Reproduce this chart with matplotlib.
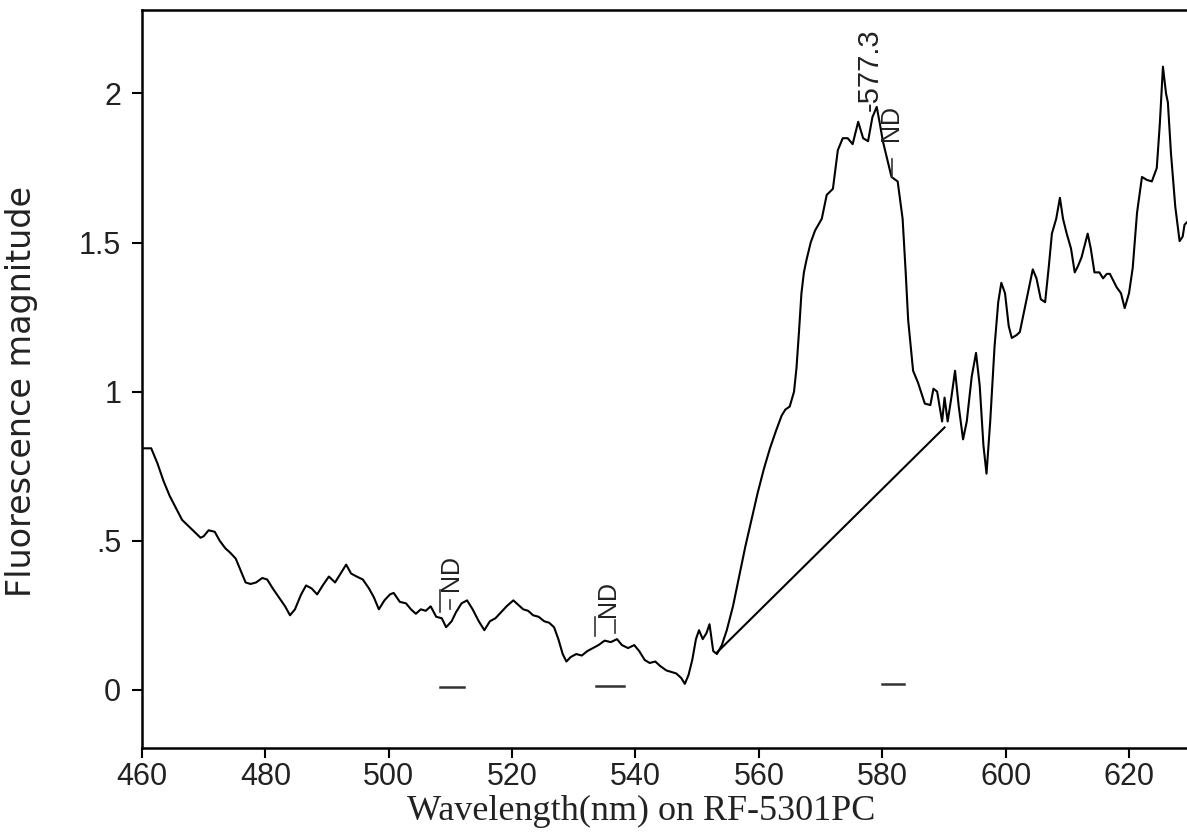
import matplotlib
matplotlib.use("Agg")
import matplotlib.pyplot as plt

# espectro (comprimento de onda em nm, magnitude)
comprimento = [460.0, 461.5, 462.5, 463.5, 464.5, 465.5, 466.5, 467.5, 468.5, 469.5,
               470.0, 470.8, 471.8, 472.6, 473.5, 474.3, 475.2, 476.0, 476.8, 477.6,
               478.5, 479.5, 480.3, 481.2, 482.2, 483.2, 484.0, 484.8, 485.8, 486.6,
               487.5, 488.4, 489.3, 490.3, 491.3, 492.2, 493.1, 493.9, 494.8, 495.8,
               496.8, 497.6, 498.4, 499.3, 500.2, 500.8, 501.8, 502.8, 503.6, 504.4,
               505.2, 506.0, 506.8, 507.7, 508.6, 509.3, 510.2, 510.9, 511.8, 512.7,
               513.6, 514.6, 515.5, 516.4, 517.3, 518.2, 519.1, 520.2, 521.0, 521.8,
               522.6, 523.4, 524.3, 525.2, 526.0, 526.8, 527.5, 528.2, 528.8, 529.5,
               530.4, 531.3, 532.2, 533.1, 534.0, 535.0, 536.0, 537.0, 537.8, 538.8,
               539.8, 540.6, 541.5, 542.3, 543.2, 544.0, 545.0, 545.8, 546.6, 547.4,
               548.0, 548.6, 549.2, 549.8, 550.3, 550.9, 551.5, 552.0, 552.6, 553.2,
               554.0, 554.8, 555.8, 556.8, 557.8, 558.8, 559.8, 560.8, 561.8, 562.8,
               563.7, 564.3, 565.0, 565.7, 566.1, 566.5, 566.9, 567.3, 567.7, 568.4,
               569.1, 570.2, 571.0, 572.0, 572.8, 573.6, 574.4, 575.2, 576.1, 576.9,
               577.7, 578.4, 579.1, 579.6, 580.1, 580.8, 581.5, 582.5, 583.3, 583.8,
               584.2, 585.0, 585.8, 586.9, 587.8, 588.3, 588.9, 589.7, 590.1, 590.6,
               591.2, 591.8, 592.4, 593.1, 593.7, 594.5, 595.2, 595.8, 596.4, 596.9,
               597.5, 598.2, 598.8, 599.3, 599.9, 600.5, 601.0, 601.8, 602.3, 603.3,
               604.4, 605.0, 605.7, 606.4, 607.0, 607.5, 608.2, 608.8, 609.3, 609.9,
               610.6, 611.2, 611.7, 612.3, 613.3, 613.8, 614.4, 615.2, 615.8, 616.4,
               616.9, 617.5, 618.0, 618.7, 619.3, 620.0, 620.6, 621.3, 622.1, 622.9,
               623.7, 624.5, 625.0, 625.5, 626.0, 626.3, 626.8, 627.5, 628.2, 628.7,
               629.0, 630.0]
magnitude = [0.81, 0.81, 0.76, 0.70, 0.65, 0.61, 0.57, 0.55, 0.53, 0.51,
             0.515, 0.535, 0.53, 0.50, 0.475, 0.46, 0.44, 0.40, 0.36, 0.355,
             0.36, 0.375, 0.37, 0.34, 0.31, 0.28, 0.25, 0.27, 0.32, 0.35,
             0.34, 0.32, 0.35, 0.38, 0.36, 0.39, 0.42, 0.39, 0.38, 0.37,
             0.34, 0.31, 0.27, 0.30, 0.32, 0.325, 0.295, 0.29, 0.27, 0.255,
             0.27, 0.265, 0.28, 0.245, 0.24, 0.21, 0.23, 0.26, 0.29, 0.30,
             0.27, 0.23, 0.20, 0.23, 0.24, 0.26, 0.28, 0.30, 0.285, 0.27,
             0.265, 0.25, 0.245, 0.23, 0.225, 0.21, 0.17, 0.12, 0.095, 0.11,
             0.12, 0.115, 0.13, 0.14, 0.15, 0.165, 0.16, 0.17, 0.15, 0.14,
             0.15, 0.13, 0.10, 0.09, 0.095, 0.08, 0.065, 0.06, 0.055, 0.04,
             0.02, 0.05, 0.10, 0.17, 0.20, 0.17, 0.19, 0.22, 0.13, 0.12,
             0.15, 0.20, 0.28, 0.38, 0.48, 0.57, 0.66, 0.74, 0.81, 0.87,
             0.92, 0.94, 0.95, 1.00, 1.08, 1.20, 1.33, 1.40, 1.44, 1.50,
             1.54, 1.58, 1.66, 1.68, 1.81, 1.85, 1.85, 1.83, 1.905, 1.85,
             1.84, 1.92, 1.955, 1.90, 1.84, 1.78, 1.72, 1.705, 1.58, 1.40,
             1.24, 1.07, 1.03, 0.96, 0.955, 1.01, 1.00, 0.90, 0.98, 0.90,
             0.98, 1.07, 0.95, 0.84, 0.90, 1.05, 1.13, 1.02, 0.82, 0.725,
             0.90, 1.15, 1.30, 1.365, 1.33, 1.22, 1.18, 1.19, 1.20, 1.30,
             1.41, 1.38, 1.31, 1.30, 1.42, 1.53, 1.58, 1.65, 1.58, 1.53,
             1.48, 1.40, 1.42, 1.45, 1.53, 1.48, 1.40, 1.40, 1.38, 1.395,
             1.395, 1.37, 1.35, 1.33, 1.28, 1.33, 1.415, 1.60, 1.72, 1.71,
             1.705, 1.75, 1.90, 2.09, 2.00, 1.97, 1.80, 1.62, 1.505, 1.52,
             1.56, 1.58]

# reta da linha de base entre os dois vales
reta_x = [553.2, 590.1]
reta_y = [0.125, 0.88]

# marcas horizontais perto de zero
traco_inicio = [508.3, 533.6, 580.0]
traco_fim = [512.2, 538.2, 583.5]
traco_y = [0.01, 0.013, 0.02]

# rotulos dos picos
rotulo_x = [510.1, 535.5, 581.4]
rotulo_y = [0.33, 0.245, 1.84]
pico_texto = "-577.3"
pico_x = 578.0
pico_y = 1.94

ticks_x = [460, 480, 500, 520, 540, 560, 580, 600, 620]
ticks_y = [0, 0.5, 1, 1.5, 2]
ticks_y_texto = ["0", ".5", "1", "1.5", "2"]

fig = plt.figure(figsize=(11.87, 8.32), dpi=100)
ax = fig.add_axes([0.1196, 0.101, 0.8804, 0.887])

ax.plot(comprimento, magnitude, color="black", lw=1.5, solid_joinstyle="round")
ax.plot(reta_x, reta_y, color="black", lw=1.5)
for a, b, y in zip(traco_inicio, traco_fim, traco_y):
    ax.plot([a, b], [y, y], color="#333333", lw=1.8)

for x, y in zip(rotulo_x, rotulo_y):
    ax.text(x, y, "ND", rotation=90, ha="center", va="bottom",
            fontsize=18, family="Liberation Sans", color="#222222")
ax.text(pico_x, pico_y, pico_texto, rotation=90, ha="center", va="bottom",
        fontsize=21, family="Liberation Sans", color="#222222")

# pequenos tracos junto dos rotulos
ax.plot([508.3, 508.3], [0.26, 0.335], color="#333333", lw=1.2)
ax.plot([509.9, 509.9], [0.27, 0.30], color="#333333", lw=1.2)
ax.plot([533.4, 533.4], [0.18, 0.245], color="#333333", lw=1.2)
ax.plot([536.7, 536.7], [0.19, 0.235], color="#333333", lw=1.2)
ax.plot([581.6, 581.6], [1.72, 1.78], color="#333333", lw=1.2)

ax.set_xlim(460, 629.4)
ax.set_ylim(-0.195, 2.28)
ax.set_xticks(ticks_x)
ax.set_yticks(ticks_y)
ax.set_yticklabels(ticks_y_texto)
for lab in ax.get_xticklabels() + ax.get_yticklabels():
    lab.set_family("Liberation Sans")
    lab.set_fontsize(22)
    lab.set_color("#222222")
ax.tick_params(axis="x", direction="out", length=7, width=1.5, pad=3)
ax.tick_params(axis="y", direction="out", length=7, width=1.5, pad=8)

ax.spines["right"].set_visible(False)
for s in ["left", "bottom", "top"]:
    ax.spines[s].set_linewidth(1.8)

fig.text(0.54, 0.025, "Wavelength(nm) on RF-5301PC", ha="center", va="center",
         fontsize=26, family="Liberation Serif", color="#222222")
fig.text(0.018, 0.529, "Fluorescence magnitude", rotation=90, ha="center", va="center",
         fontsize=24, family="DejaVu Sans", color="#222222")

plt.savefig("out.png", dpi=100)
